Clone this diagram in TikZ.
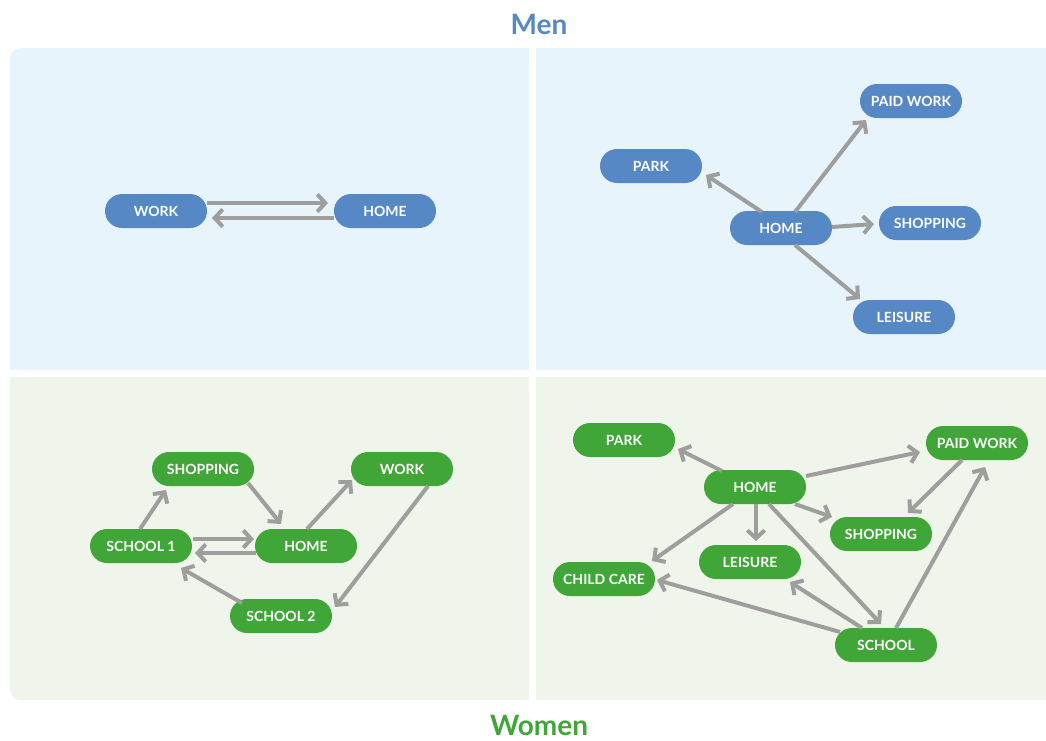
\documentclass[tikz,border=0pt]{standalone}
\usepackage{fontspec}
\setmainfont{Lato}
\usetikzlibrary{arrows.meta}
\definecolor{menblue}{HTML}{5588C4}
\definecolor{womgreen}{HTML}{40A637}
\definecolor{topbg}{HTML}{E8F4FC}
\definecolor{botbg}{HTML}{F0F5EC}
\definecolor{arrgray}{HTML}{9E9E9D}
\begin{document}
\begin{tikzpicture}[x=0.75pt,y=-0.75pt,
  pill/.style={rectangle,rounded corners=12.75pt,minimum width=76.5pt,minimum height=25.5pt,inner sep=0pt,text=white,font=\fontsize{10.5}{12}\selectfont\bfseries},
  mpill/.style={pill,fill=menblue},
  wpill/.style={pill,fill=womgreen},
  conn/.style={draw=arrgray,line width=3pt,-{Straight Barb[length=6pt,width=13pt,line width=3pt]}},
  title/.style={font=\fontsize{21}{24}\selectfont\bfseries}]
\useasboundingbox (0,0) rectangle (1046,740);
\fill[white] (0,0) rectangle (1046,740);
% panels
\fill[topbg,rounded corners=8pt] (10,48) rectangle (529,370);
\fill[topbg] (30,48) rectangle (529,370);
\fill[topbg] (10,70) rectangle (529,370);
\fill[topbg] (536,48) rectangle (1046,370);
\fill[botbg,rounded corners=8pt] (10,377) rectangle (529,700);
\fill[botbg] (30,377) rectangle (529,700);
\fill[botbg] (10,377) rectangle (529,680);
\fill[botbg] (536,377) rectangle (1046,700);
\node[title,text=menblue] (tmen) at (539,24) {Men};
\node[title,text=womgreen] (twomen) at (539,725) {Women};
% top-left
\node[mpill] (a1) at (156,211) {WORK};
\node[mpill] (a2) at (385,211) {HOME};
\draw[conn] ([shift={(51,-8)}]a1.center) -- ([shift={(-57,-8)}]a2.center);
\draw[conn] ([shift={(-51,7)}]a2.center) -- ([shift={(56,7)}]a1.center);
% top-right
\node[mpill] (bh) at (781,228) {HOME};
\node[mpill] (bp) at (651,166) {PARK};
\node[mpill] (bw) at (911,101) {PAID WORK};
\node[mpill] (bs) at (930,223) {SHOPPING};
\node[mpill] (bl) at (904,317) {LEISURE};
\draw[conn] ([shift={(-19,-16)}]bh.center) -- ([shift={(55,9)}]bp.center);
\draw[conn] ([shift={(14,-16)}]bh.center) -- ([shift={(-45,19)}]bw.center);
\draw[conn] ([shift={(51,-1)}]bh.center) -- ([shift={(-56,1)}]bs.center);
\draw[conn] ([shift={(14,17)}]bh.center) -- ([shift={(-44,-18)}]bl.center);
% bottom-left
\node[wpill] (cs) at (203,469) {SHOPPING};
\node[wpill] (cw) at (402,469) {WORK};
\node[wpill] (c1) at (141,546) {SCHOOL 1};
\node[wpill] (ch) at (306,546) {HOME};
\node[wpill] (c2) at (281,616) {SCHOOL 2};
\draw[conn] ([shift={(-1,-17)}]c1.center) -- ([shift={(-37,21)}]cs.center);
\draw[conn] ([shift={(45,14)}]cs.center) -- ([shift={(-25,-22)}]ch.center);
\draw[conn] ([shift={(1,-17)}]ch.center) -- ([shift={(-50,11)}]cw.center);
\draw[conn] ([shift={(52,-7)}]c1.center) -- ([shift={(-52,-7)}]ch.center);
\draw[conn] ([shift={(-50,7)}]ch.center) -- ([shift={(54,7)}]c1.center);
\draw[conn] ([shift={(26,17)}]cw.center) -- ([shift={(54,-9)}]c2.center);
\draw[conn] ([shift={(-39,-13)}]c2.center) -- ([shift={(40,22)}]c1.center);
% bottom-right
\node[wpill] (dp) at (624,440) {PARK};
\node[wpill] (dh) at (755,487) {HOME};
\node[wpill] (dw) at (977,443) {PAID WORK};
\node[wpill] (ds) at (881,534) {SHOPPING};
\node[wpill] (dl) at (750,562) {LEISURE};
\node[wpill] (dc) at (604,579) {CHILD CARE};
\node[wpill] (dk) at (886,645) {SCHOOL};
\draw[conn] ([shift={(-33,-16)}]dh.center) -- ([shift={(54,9)}]dp.center);
\draw[conn] ([shift={(51,-11)}]dh.center) -- ([shift={(-57,9)}]dw.center);
\draw[conn] ([shift={(40,17)}]dh.center) -- ([shift={(-49,-17)}]ds.center);
\draw[conn] ([shift={(1,17)}]dh.center) -- ([shift={(6,-21)}]dl.center);
\draw[conn] ([shift={(-22,17)}]dh.center) -- ([shift={(48,-18)}]dc.center);
\draw[conn] ([shift={(14,17)}]dh.center) -- ([shift={(-5,-21)}]dk.center);
\draw[conn] ([shift={(-15,17)}]dw.center) -- ([shift={(27,-21)}]ds.center);
\draw[conn] ([shift={(10,-17)}]dk.center) -- ([shift={(8,24)}]dw.center);
\draw[conn] ([shift={(-24,-17)}]dk.center) -- ([shift={(40,20)}]dl.center);
\draw[conn] ([shift={(-46,-13)}]dk.center) -- ([shift={(53,1)}]dc.center);
\end{tikzpicture}
\end{document}
